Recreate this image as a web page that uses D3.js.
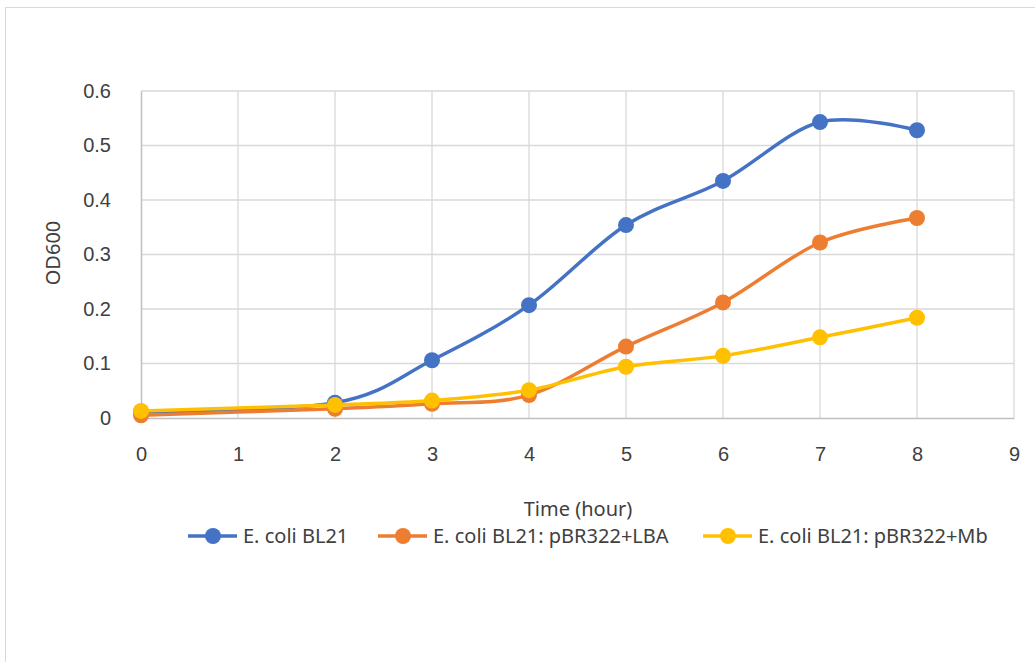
<!DOCTYPE html>
<html>
<head>
<meta charset="utf-8">
<script src="https://cdn.jsdelivr.net/npm/d3@7"></script>
<style>
  html, body { margin: 0; padding: 0; background: #fff; }
  svg { display: block; font-family: "Noto Sans", "Open Sans", sans-serif; }
</style>
</head>
<body>
<svg id="chart" width="1035" height="662"></svg>
<script>
// Growth curves: OD600 over time for three strains
const hours = [0, 2, 3, 4, 5, 6, 7, 8];
const seriesNames = ["E. coli BL21", "E. coli BL21: pBR322+LBA", "E. coli BL21: pBR322+Mb"];
const bl21 = [0.011, 0.028, 0.106, 0.207, 0.354, 0.435, 0.543, 0.528];
const bl21Lba = [0.005, 0.017, 0.026, 0.042, 0.131, 0.212, 0.322, 0.367];
const bl21Mb = [0.013, 0.024, 0.032, 0.051, 0.094, 0.114, 0.148, 0.184];
const xTicks = [0, 1, 2, 3, 4, 5, 6, 7, 8, 9];
const yTicks = [0, 0.1, 0.2, 0.3, 0.4, 0.5, 0.6];
const colors = ["#4472c4", "#ed7d31", "#ffc000"];

const svg = d3.select("#chart");
const fontSize = 20;
const textColor = "#404040";

// outer chart frame
svg.append("rect")
  .attr("x", 5.5).attr("y", 7.5)
  .attr("width", 1040).attr("height", 670)
  .attr("fill", "none").attr("stroke", "#d9d9d9").attr("stroke-width", 1);

const x = d3.scaleLinear().domain([0, 9]).range([141, 1014]);
const y = d3.scaleLinear().domain([0, 0.6]).range([418, 91]);

// gridlines
const grid = svg.append("g");
grid.selectAll("line.v").data(xTicks.slice(1)).join("line")
  .attr("x1", d => x(d)).attr("x2", d => x(d))
  .attr("y1", y(0.6)).attr("y2", y(0))
  .attr("stroke", "#d9d9d9").attr("stroke-width", 1.3);
grid.selectAll("line.h").data(yTicks.slice(1)).join("line")
  .attr("x1", x(0)).attr("x2", x(9))
  .attr("y1", d => y(d)).attr("y2", d => y(d))
  .attr("stroke", "#d9d9d9").attr("stroke-width", 1.3);

// axes
const xAxis = svg.append("g").attr("transform", `translate(0,${y(0)})`)
  .call(d3.axisBottom(x).tickValues(xTicks).tickSize(0).tickPadding(29).tickFormat(d3.format("d")));
const yAxis = svg.append("g").attr("transform", `translate(${x(0)},0)`)
  .call(d3.axisLeft(y).tickValues(yTicks).tickSize(0).tickPadding(30).tickFormat(d => d === 0 ? "0" : d3.format(".1f")(d)));
[xAxis, yAxis].forEach(a => {
  a.select(".domain").attr("stroke", "#bfbfbf").attr("stroke-width", 1.5);
  a.selectAll("text").attr("fill", textColor).attr("font-size", fontSize);
});

// axis titles
svg.append("text").attr("x", 578).attr("y", 516)
  .attr("text-anchor", "middle").attr("font-size", fontSize).attr("fill", textColor)
  .text("Time (hour)");
svg.append("text")
  .attr("transform", `translate(60,253) rotate(-90)`)
  .attr("text-anchor", "middle").attr("font-size", fontSize).attr("fill", textColor)
  .text("OD600");

// series
const allSeries = [bl21, bl21Lba, bl21Mb];
const line = d3.line()
  .x((d, i) => x(hours[i]))
  .y(d => y(d))
  .curve(d3.curveCatmullRom.alpha(0));

allSeries.forEach((vals, k) => {
  const g = svg.append("g");
  g.append("path").datum(vals)
    .attr("d", line).attr("fill", "none")
    .attr("stroke", colors[k]).attr("stroke-width", 3.5)
    .attr("stroke-linecap", "round");
  g.selectAll("circle").data(vals).join("circle")
    .attr("cx", (d, i) => x(hours[i])).attr("cy", d => y(d))
    .attr("r", 8).attr("fill", colors[k]);
});

// legend
const legendPos = [188, 378, 703];
seriesNames.forEach((name, k) => {
  const g = svg.append("g").attr("transform", `translate(${legendPos[k]},536)`);
  g.append("line").attr("x1", 0).attr("x2", 49).attr("y1", 0).attr("y2", 0)
    .attr("stroke", colors[k]).attr("stroke-width", 3.5);
  g.append("circle").attr("cx", 25).attr("cy", 0).attr("r", 8).attr("fill", colors[k]);
  g.append("text").attr("x", 55).attr("y", 7)
    .attr("font-size", fontSize).attr("fill", textColor).text(name);
});
</script>
</body>
</html>
